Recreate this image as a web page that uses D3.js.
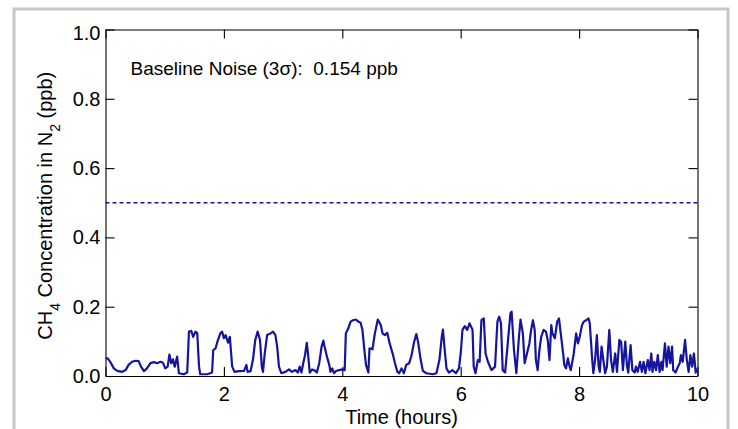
<!DOCTYPE html>
<html>
<head>
<meta charset="utf-8">
<script src="https://cdn.jsdelivr.net/npm/d3@7/dist/d3.min.js"></script>
<style>
  html, body { margin: 0; padding: 0; background: #fff; }
  svg { display: block; }
  text { font-family: "Liberation Sans", Arial, Helvetica, sans-serif; fill: #000; }
</style>
</head>
<body>
<svg id="chart" width="738" height="429"></svg>
<script>
// ---- data ----
const times = [
  0.00,0.04,0.08,0.14,0.20,0.28,0.34,0.39,0.45,0.51,
  0.56,0.60,0.65,0.70,0.76,0.82,0.87,0.93,0.97,1.01,
  1.05,1.08,1.11,1.14,1.17,1.21,1.24,1.32,1.38,1.41,
  1.45,1.48,1.52,1.55,1.58,1.60,1.72,1.80,1.82,1.86,
  1.89,1.94,1.97,2.00,2.03,2.07,2.10,2.14,2.18,2.25,
  2.34,2.38,2.40,2.45,2.49,2.53,2.57,2.61,2.64,2.66,
  2.69,2.73,2.79,2.83,2.87,2.90,2.93,2.97,3.04,3.10,
  3.15,3.21,3.25,3.28,3.31,3.34,3.37,3.40,3.42,3.45,
  3.49,3.54,3.57,3.61,3.65,3.68,3.70,3.74,3.78,3.80,
  3.83,3.86,3.90,3.95,4.00,4.04,4.06,4.10,4.14,4.18,
  4.23,4.27,4.31,4.34,4.37,4.40,4.44,4.46,4.51,4.55,
  4.60,4.65,4.68,4.72,4.76,4.80,4.85,4.89,4.93,4.96,
  5.00,5.04,5.08,5.13,5.17,5.21,5.25,5.28,5.32,5.36,
  5.42,5.53,5.59,5.64,5.68,5.70,5.73,5.76,5.80,5.86,
  5.92,5.97,6.00,6.03,6.07,6.11,6.15,6.20,6.22,6.25,
  6.29,6.32,6.35,6.39,6.42,6.46,6.52,6.58,6.62,6.65,
  6.68,6.71,6.75,6.80,6.84,6.86,6.90,6.94,6.98,7.01,
  7.05,7.08,7.12,7.16,7.19,7.22,7.25,7.27,7.30,7.33,
  7.36,7.40,7.44,7.47,7.50,7.53,7.55,7.59,7.63,7.66,
  7.69,7.73,7.75,7.78,7.81,7.84,7.86,7.91,7.95,7.98,
  8.01,8.05,8.08,8.12,8.16,8.18,8.22,8.24,8.27,8.30,
  8.33,8.35,8.38,8.41,8.44,8.47,8.51,8.54,8.57,8.61,
  8.64,8.68,8.71,8.74,8.78,8.81,8.83,8.87,8.90,8.94,
  8.96,8.99,9.03,9.06,9.09,9.12,9.16,9.19,9.22,9.24,
  9.27,9.30,9.33,9.36,9.39,9.41,9.45,9.48,9.51,9.54,
  9.57,9.59,9.63,9.67,9.70,9.72,9.75,9.79,9.82,9.85,
  9.88,9.91,9.94,9.97,9.99
];
const concentration = [
  .052,.050,.041,.022,.015,.012,.017,.032,.041,.044,
  .043,.027,.014,.022,.037,.040,.037,.041,.038,.022,
  .027,.062,.037,.048,.027,.056,.008,.005,.010,.128,
  .130,.113,.128,.123,.027,.005,.005,.010,.075,.080,
  .099,.123,.128,.109,.118,.096,.113,.027,.012,.014,
  .015,.032,.012,.014,.046,.104,.128,.104,.027,.012,
  .065,.118,.123,.128,.118,.085,.027,.008,.012,.019,
  .012,.017,.010,.027,.010,.037,.060,.096,.065,.010,
  .019,.015,.010,.037,.085,.102,.085,.056,.032,.012,
  .022,.008,.015,.017,.019,.017,.123,.137,.157,.161,
  .163,.157,.154,.133,.080,.032,.010,.080,.077,.123,
  .163,.147,.123,.118,.125,.094,.065,.037,.012,.008,
  .022,.008,.032,.037,.060,.096,.121,.099,.051,.015,
  .008,.005,.008,.046,.113,.134,.075,.022,.010,.017,
  .008,.022,.065,.133,.144,.133,.152,.133,.027,.008,
  .046,.041,.161,.166,.065,.041,.017,.027,.157,.171,
  .152,.017,.010,.104,.181,.186,.075,.008,.104,.163,
  .123,.037,.065,.094,.133,.161,.133,.046,.017,.075,
  .113,.133,.128,.104,.046,.147,.123,.109,.157,.166,
  .123,.065,.032,.022,.051,.027,.017,.065,.123,.094,
  .113,.147,.157,.161,.166,.152,.051,.008,.046,.118,
  .027,.012,.085,.046,.008,.027,.133,.046,.012,.065,
  .012,.104,.099,.017,.099,.027,.010,.089,.017,.010,
  .027,.012,.041,.012,.041,.008,.046,.017,.065,.012,
  .041,.017,.060,.012,.041,.017,.094,.027,.085,.037,
  .085,.017,.010,.027,.037,.060,.041,.104,.046,.012,
  .060,.027,.065,.010,.022
];
const referenceLevel = 0.5;          // dashed line
const xTicks = [0, 2, 4, 6, 8, 10];
const yTicks = [0.0, 0.2, 0.4, 0.6, 0.8, 1.0];
const xDomain = [0, 10];
const yDomain = [0, 1];
const noiseLabel = "Baseline Noise (3\u03C3):\u00A0\u00A00.154 ppb";
const xLabel = "Time (hours)";

// ---- layout ----
const W = 738, H = 429;
const plot = { left: 105.5, right: 697.5, top: 29.5, bottom: 376 };
const lineColor = "#14149c";
const fontSize = "20px";

const svg = d3.select("#chart");

// outer grey frame (open at bottom)
svg.append("path")
  .attr("d", `M14,${H + 2} V9 H728 V${H + 2}`)
  .attr("fill", "none")
  .attr("stroke", "#c6c6cb")
  .attr("stroke-width", 3);

const x = d3.scaleLinear().domain(xDomain).range([plot.left, plot.right]);
const y = d3.scaleLinear().domain(yDomain).range([plot.bottom, plot.top]);

const tickLen = 9;
function styleAxis(g) {
  g.selectAll("path.domain").attr("stroke", "#000").attr("stroke-width", 1.1);
  g.selectAll(".tick line").attr("stroke", "#000").attr("stroke-width", 1.1);
  g.selectAll("text").style("font-size", fontSize).attr("fill", "#000");
}

// bottom axis
svg.append("g")
  .attr("transform", `translate(0,${plot.bottom})`)
  .call(d3.axisBottom(x).tickValues(xTicks).tickFormat(d3.format("d"))
    .tickSizeInner(-tickLen).tickSizeOuter(0).tickPadding(11))
  .call(styleAxis);

// top axis (no labels)
svg.append("g")
  .attr("transform", `translate(0,${plot.top})`)
  .call(d3.axisTop(x).tickValues(xTicks).tickFormat("")
    .tickSizeInner(-tickLen).tickSizeOuter(0))
  .call(styleAxis);

// left axis
const yAxisG = svg.append("g")
  .attr("transform", `translate(${plot.left},0)`)
  .call(d3.axisLeft(y).tickValues(yTicks).tickFormat(d3.format(".1f"))
    .tickSizeInner(-tickLen).tickSizeOuter(0).tickPadding(5))
  .call(styleAxis);
// top label sits slightly lower, as in the reference
yAxisG.selectAll(".tick").filter(d => d === 1).select("text").attr("dy", "0.5em");

// right axis (no labels)
svg.append("g")
  .attr("transform", `translate(${plot.right},0)`)
  .call(d3.axisRight(y).tickValues(yTicks).tickFormat("")
    .tickSizeInner(-tickLen).tickSizeOuter(0))
  .call(styleAxis);

// dashed reference line
svg.append("line")
  .attr("x1", x(xDomain[0])).attr("x2", x(xDomain[1]))
  .attr("y1", y(referenceLevel)).attr("y2", y(referenceLevel))
  .attr("stroke", lineColor)
  .attr("stroke-width", 1.3)
  .attr("stroke-dasharray", "4,3");

// trace
const pts = times.map((t, i) => [t, concentration[i]]);
svg.append("path")
  .datum(pts)
  .attr("fill", "none")
  .attr("stroke", lineColor)
  .attr("stroke-width", 2.2)
  .attr("stroke-linejoin", "round")
  .attr("d", d3.line().x(d => x(d[0])).y(d => y(d[1])));

// annotation
svg.append("text")
  .attr("x", 130.5).attr("y", 75)
  .style("font-size", "19px")
  .text(noiseLabel);

// x label
svg.append("text")
  .attr("x", (plot.left + plot.right) / 2).attr("y", 424)
  .attr("text-anchor", "middle")
  .style("font-size", fontSize)
  .text(xLabel);

// y label with subscripts
const yl = svg.append("text")
  .attr("transform", `translate(52,${(plot.top + plot.bottom) / 2 + 3}) rotate(-90)`)
  .attr("text-anchor", "middle")
  .style("font-size", fontSize);
yl.append("tspan").text("CH");
yl.append("tspan").attr("baseline-shift", "sub").style("font-size", "14px").text("4");
yl.append("tspan").text(" Concentration in N");
yl.append("tspan").attr("baseline-shift", "sub").style("font-size", "14px").text("2");
yl.append("tspan").text(" (ppb)");
</script>
</body>
</html>
